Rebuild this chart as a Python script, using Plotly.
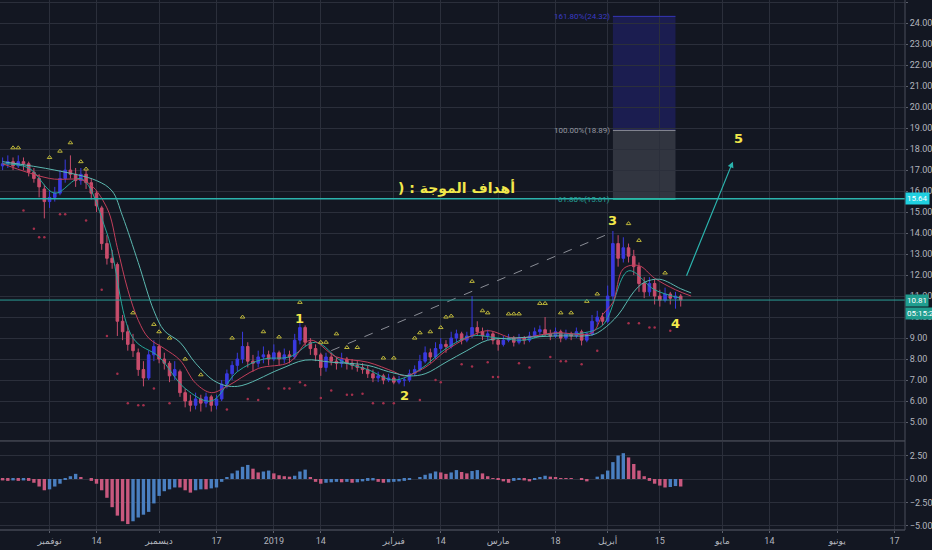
import pandas as pd
import plotly.graph_objects as go

# trading days (Sun-Thu), data runs to 2019-04-21, rest is empty future space
dates = pd.bdate_range('2018-10-21', '2019-07-15', freq='C', weekmask='Sun Mon Tue Wed Thu')

opens = [17.2, 17.3, 17.4, 17.2, 17.4, 17.3, 16.9, 16.6, 16.1, 15.5,
         15.7, 15.9, 16.6, 17.0, 16.8, 16.5, 16.8, 16.4, 15.9, 15.2,
         13.5, 12.8, 12.5, 9.8, 9.3, 8.7, 8.3, 7.5, 7.1, 8.2,
         8.6, 8.0, 7.8, 7.2, 7.4, 6.4, 6.0, 5.8, 6.1, 5.9,
         6.2, 5.8, 6.1, 6.8, 7.3, 7.7, 8.0, 8.6, 7.9, 7.8,
         8.1, 8.2, 8.0, 8.3, 8.0, 8.2, 8.1, 8.9, 9.5, 8.8,
         8.5, 8.2, 7.6, 8.1, 7.9, 7.8, 8.0, 7.8, 7.7, 7.6,
         7.5, 7.3, 7.1, 7.2, 7.0, 7.1, 6.9, 7.0, 7.0, 7.3,
         7.5, 7.9, 8.3, 8.1, 8.5, 8.7, 8.6, 9.0, 9.2, 8.9,
         9.1, 9.5, 9.3, 9.1, 9.2, 8.9, 8.7, 8.9, 9.0, 8.8,
         9.0, 8.9, 9.1, 9.3, 9.4, 9.2, 9.1, 9.3, 9.0, 9.2,
         9.1, 9.3, 8.9, 9.2, 9.8, 10.0, 9.8, 11.0, 13.5, 12.8,
         13.3, 12.9, 12.4, 11.6, 11.2, 11.6, 11.0, 10.8, 11.1, 10.9,
         11.0]
highs = [17.6, 17.7, 17.6, 17.7, 17.6, 17.4, 17.1, 16.8, 16.3, 16.0,
         16.2, 17.0, 17.5, 17.7, 17.1, 17.1, 17.0, 16.6, 16.0, 15.3,
         13.9, 13.2, 12.6, 10.1, 9.6, 9.2, 8.5, 7.9, 8.4, 8.9,
         8.7, 8.3, 7.9, 7.9, 7.5, 6.6, 6.3, 6.4, 6.3, 6.4,
         6.3, 6.3, 7.0, 7.5, 7.9, 8.3, 9.3, 8.8, 8.2, 8.4,
         8.6, 8.4, 8.7, 8.4, 8.5, 8.4, 9.2, 9.85, 9.6, 9.0,
         8.7, 8.3, 8.3, 8.3, 8.1, 8.3, 8.1, 8.0, 7.9, 7.8,
         7.7, 7.5, 7.4, 7.3, 7.3, 7.2, 7.2, 7.1, 7.5, 7.7,
         8.2, 8.6, 8.5, 8.8, 9.0, 8.9, 9.3, 9.4, 9.3, 9.3,
         11.0, 9.8, 9.5, 9.4, 9.3, 9.0, 9.1, 9.2, 9.1, 9.2,
         9.1, 9.3, 9.5, 9.6, 10.0, 9.4, 9.5, 9.4, 9.4, 9.3,
         9.5, 9.4, 9.3, 10.1, 10.3, 10.2, 11.5, 14.1, 13.9, 13.8,
         13.5, 13.2, 12.6, 11.9, 11.9, 11.8, 11.3, 11.4, 11.2, 11.2,
         11.1]
lows = [17.0, 17.1, 17.0, 17.1, 17.0, 16.7, 16.4, 15.7, 14.7, 15.2,
        15.5, 15.8, 16.4, 16.6, 16.2, 16.3, 16.1, 15.6, 15.0, 13.2,
        12.5, 12.3, 9.1, 8.9, 8.4, 8.1, 7.2, 6.7, 7.0, 7.9,
        7.8, 7.5, 6.9, 7.0, 6.2, 5.7, 5.5, 5.6, 5.5, 5.7,
        5.5, 5.6, 6.0, 6.6, 7.0, 7.4, 7.8, 7.6, 7.4, 7.6,
        7.8, 7.7, 7.9, 7.7, 7.8, 7.8, 8.0, 8.7, 8.6, 8.2,
        7.9, 7.2, 7.4, 7.7, 7.5, 7.6, 7.5, 7.5, 7.4, 7.3,
        7.1, 6.9, 6.9, 6.8, 6.9, 6.8, 6.8, 6.7, 6.9, 7.2,
        7.4, 7.8, 7.8, 8.0, 8.3, 8.3, 8.5, 8.8, 8.7, 8.8,
        9.0, 9.1, 8.9, 8.9, 8.7, 8.4, 8.6, 8.8, 8.6, 8.7,
        8.7, 8.8, 9.0, 9.1, 9.1, 8.9, 9.0, 8.8, 8.9, 8.9,
        9.0, 8.65, 8.8, 9.1, 9.6, 9.6, 9.7, 10.8, 12.4, 12.6,
        12.6, 12.0, 11.2, 10.9, 11.0, 10.6, 10.5, 10.7, 10.6, 10.4,
        10.5]
closes = [17.3, 17.4, 17.2, 17.4, 17.3, 16.9, 16.6, 16.2, 15.5, 15.7,
          15.9, 16.6, 17.0, 16.8, 16.5, 16.8, 16.4, 15.9, 15.3, 13.5,
          12.8, 12.6, 9.8, 9.3, 8.7, 8.4, 7.5, 7.1, 8.2, 8.6,
          8.0, 7.8, 7.2, 7.5, 6.4, 6.0, 5.8, 6.1, 5.9, 6.2,
          5.8, 6.1, 6.8, 7.3, 7.7, 8.0, 8.6, 7.9, 7.8, 8.1,
          8.2, 8.0, 8.3, 8.0, 8.2, 8.1, 8.9, 9.5, 8.8, 8.5,
          8.2, 7.6, 8.1, 7.9, 7.8, 8.0, 7.8, 7.7, 7.6, 7.5,
          7.3, 7.1, 7.2, 7.0, 7.1, 6.9, 7.0, 7.0, 7.3, 7.5,
          7.9, 8.3, 8.1, 8.5, 8.7, 8.6, 9.0, 9.2, 8.9, 9.1,
          9.5, 9.3, 9.1, 9.2, 8.9, 8.7, 8.9, 9.0, 8.8, 9.0,
          8.9, 9.1, 9.3, 9.4, 9.2, 9.1, 9.3, 9.0, 9.2, 9.1,
          9.3, 8.9, 9.2, 9.8, 10.0, 9.8, 11.0, 13.5, 12.8, 13.3,
          12.9, 12.4, 11.6, 11.2, 11.6, 11.0, 10.8, 11.1, 10.9, 11.0,
          10.81]

# moving averages (bar index, value)
ma_fast_idx = [0, 5, 10, 15, 20, 25, 30, 35, 40, 45, 50, 55, 60, 65, 70, 75, 80,
               85, 90, 95, 100, 105, 110, 115, 120, 125, 130]
ma_fast = [17.3, 17.1, 15.9, 16.6, 14.0, 9.0, 8.1, 6.6, 6.0, 7.4, 8.0, 8.1, 8.8, 7.9,
           7.5, 7.0, 7.5, 8.5, 9.1, 9.0, 8.9, 9.2, 9.2, 9.6, 12.2, 11.3, 10.9]
ma_red_idx = [0, 9, 16, 20, 22, 24, 26, 28, 31, 34, 37, 40, 43, 49, 55, 59, 64, 70,
              75, 77, 81, 85, 89, 93, 98, 106, 113, 115, 117, 119, 122, 125, 129, 132]
ma_red = [17.3, 16.6, 16.45, 15.2, 13.3, 11.3, 9.85, 9.0, 8.5, 7.95, 6.85, 6.4, 6.7,
          7.55, 7.85, 8.9, 8.1, 7.85, 7.4, 7.2, 7.6, 8.4, 9.0, 9.35, 9.0, 9.25, 9.25,
          10.1, 10.7, 12.3, 12.45, 11.85, 11.3, 11.0]
ma_slow_idx = [0, 10, 18, 21, 23, 26, 29, 31, 34, 37, 41, 45, 53, 58, 63, 70, 74, 78,
               81, 85, 89, 93, 98, 106, 113, 115, 118, 121, 123, 126, 130, 132]
ma_slow = [17.4, 17.0, 16.5, 16.0, 14.8, 12.6, 10.3, 9.35, 8.8, 7.8, 6.9, 6.7, 7.5,
           7.95, 7.85, 7.7, 7.4, 7.2, 7.3, 7.85, 8.4, 8.9, 9.0, 9.1, 9.15, 9.4, 10.1,
           11.2, 11.65, 11.8, 11.35, 11.15]

caret_idx = [2, 3, 9, 11, 13, 15, 16, 25, 29, 30, 32, 35, 38, 44, 46, 50, 53, 57, 61, 62,
             64, 66, 68, 73, 75, 79, 80, 82, 84, 85, 86, 90, 92, 93, 97, 98, 99, 103,
             104, 107, 109, 112, 114, 120, 122, 127]
caret_val = [18.06, 18.06, 17.6, 17.9, 18.3, 17.4, 17.05, 10.2, 9.65, 9.3, 9.0, 8.0,
             7.25, 9.0, 10.0, 9.3, 9.05, 10.7, 8.8, 8.8, 9.2, 8.55, 8.55, 8.05, 8.05,
             9.0, 9.25, 9.3, 9.5, 10.0, 10.05, 11.7, 10.3, 10.2, 10.15, 10.15, 10.15,
             10.65, 10.65, 10.2, 10.2, 10.75, 11.1, 14.45, 13.65, 12.1]
dot_idx = [4, 6, 7, 8, 11, 12, 16, 19, 20, 22, 24, 26, 27, 29, 32, 43, 47, 49, 51, 54,
           55, 57, 58, 61, 63, 66, 67, 69, 71, 73, 75, 80, 83, 84, 88, 90, 93, 94, 95,
           99, 101, 105, 107, 108, 111, 114, 120, 122, 124, 125, 128]
dot_val = [15.07, 14.2, 13.8, 13.8, 14.9, 14.9, 14.6, 11.3, 9.1, 7.3, 5.9, 5.8, 5.8,
           6.6, 5.9, 5.6, 6.1, 6.05, 6.6, 6.6, 6.6, 6.9, 6.75, 6.15, 6.5, 6.3, 6.3,
           6.35, 5.9, 5.9, 5.9, 6.05, 7.0, 6.9, 7.75, 7.65, 7.85, 7.15, 7.15, 7.8,
           7.6, 8.1, 7.9, 7.9, 7.75, 8.4, 9.7, 9.7, 9.5, 9.5, 9.35]

macd_hist = [-0.15, -0.2, -0.15, -0.2, -0.15, -0.2, -0.4, -0.8, -1.2, -1.1,
             -0.8, -0.5, -0.1, 0.3, 0.55, 0.2, 0.0, -0.2, -0.5, -1.2,
             -2.0, -3.0, -3.9, -4.5, -4.8, -4.5, -4.1, -3.8, -3.5, -2.6,
             -1.8, -1.3, -1.1, -0.9, -0.9, -1.2, -1.45, -1.2, -1.1, -1.1,
             -1.0, -0.9, -0.3, 0.2, 0.6, 0.9, 1.3, 1.5, 1.1, 0.7,
             0.8, 0.9, 0.6, 0.4, 0.3, 0.25, 0.35, 0.8, 1.0, 0.2,
             -0.3, -0.5, -0.4, -0.35, -0.3, -0.35, -0.3, -0.4, -0.35, -0.25,
             -0.2, -0.15, -0.3, -0.4, -0.35, -0.3, -0.25, -0.2, -0.1, 0.0,
             0.2, 0.45, 0.6, 0.8, 0.7, 0.55, 0.7, 0.95, 0.75, 0.6,
             0.85, 0.95, 0.6, 0.3, 0.1, -0.05, -0.25, -0.4, -0.2, -0.05,
             -0.15, -0.25, -0.1, 0.2, 0.35, 0.25, 0.15, 0.1, 0.05, 0.05,
             0.0, -0.1, -0.25, 0.0, 0.25, 0.5, 0.9, 1.8, 2.5, 2.75,
             2.3, 1.6, 0.9, 0.3, -0.2, -0.5, -0.7, -0.9, -0.85, -0.75,
             -0.8]

tick_dates = ['2018-11-01', '2018-11-14', '2018-12-02', '2018-12-17', '2019-01-01',
              '2019-01-14', '2019-02-03', '2019-02-14', '2019-03-03', '2019-03-18',
              '2019-04-01', '2019-04-15', '2019-05-01', '2019-05-14', '2019-06-02',
              '2019-06-17']
tick_text = ['نوفمبر', '14', 'ديسمبر', '17', '2019', '14', 'فبراير', '14', 'مارس', '18',
             'أبريل', '15', 'مايو', '14', 'يونيو', '17']

n = len(closes)
bar_dates = dates[:n]
BG = '#131722'
GRID = '#2b2f3b'
TEAL = '#2bb3ad'
YEL = '#f2e84b'

fig = go.Figure()
fig.add_trace(go.Candlestick(
    x=bar_dates, open=opens, high=highs, low=lows, close=closes,
    increasing=dict(line=dict(color='#3a3ae0', width=1), fillcolor='#3a3ae0'),
    decreasing=dict(line=dict(color='#c84d6c', width=1), fillcolor='#c84d6c'),
    whiskerwidth=0, showlegend=False, hoverinfo='skip'))

for idx, vals, col in [(ma_fast_idx, ma_fast, '#26a69a'),
                       (ma_red_idx, ma_red, '#c23e5a'),
                       (ma_slow_idx, ma_slow, '#5cb8b0')]:
    fig.add_trace(go.Scatter(x=[dates[i] for i in idx], y=vals, mode='lines',
                             line=dict(color=col, width=1, shape='spline'),
                             showlegend=False, hoverinfo='skip'))

fig.add_trace(go.Scatter(x=[dates[i] for i in caret_idx], y=caret_val, mode='markers',
                         marker=dict(symbol='triangle-up-open', size=4, color='#bdb63a',
                                     line=dict(width=1)),
                         showlegend=False, hoverinfo='skip'))
fig.add_trace(go.Scatter(x=[dates[i] for i in dot_idx], y=dot_val, mode='markers',
                         marker=dict(symbol='circle', size=2.5, color='#a3304c'),
                         showlegend=False, hoverinfo='skip'))

# macd histogram: blue when rising, pink when falling
hist_colors = ['#4a7fc0' if i > 0 and macd_hist[i] > macd_hist[i - 1] else '#c8587e'
               for i in range(n)]
fig.add_trace(go.Bar(x=bar_dates, y=macd_hist, yaxis='y2', marker_color=hist_colors,
                     marker_line_width=0, showlegend=False, hoverinfo='skip'))

# dashed line from wave 2 area to wave 3 top
fig.add_shape(type='line', x0=dates[63], y0=8.4, x1=dates[117], y1=14.05,
              line=dict(color='#8a8d96', width=1, dash='dash'), xref='x', yref='y')

# horizontal levels
fig.add_shape(type='line', xref='paper', x0=0, x1=1, y0=15.64, y1=15.64, yref='y',
              line=dict(color=TEAL, width=1.5))
fig.add_shape(type='line', xref='paper', x0=0, x1=1, y0=10.81, y1=10.81, yref='y',
              line=dict(color='#2a9d95', width=1))

# fibonacci extension box
fx0, fx1 = dates[117], dates[129]
fig.add_shape(type='rect', x0=fx0, x1=fx1, y0=18.89, y1=24.32, xref='x', yref='y',
              fillcolor='rgba(40,40,150,0.40)', line_width=0, layer='below')
fig.add_shape(type='rect', x0=fx0, x1=fx1, y0=15.61, y1=18.89, xref='x', yref='y',
              fillcolor='rgba(120,122,135,0.30)', line_width=0, layer='below')
for lvl, col in [(24.32, '#3636b8'), (18.89, '#8c8f99'), (15.61, '#26c0a0')]:
    fig.add_shape(type='line', x0=fx0, x1=fx1, y0=lvl, y1=lvl, xref='x', yref='y',
                  line=dict(color=col, width=1))
fib_labels = [(24.32, '161.80%(24.32)', '#3a3ac4'),
              (18.89, '100.00%(18.89)', '#9598a1'),
              (15.61, '61.80%(15.61)', '#26a69a')]
for lvl, txt, col in fib_labels:
    fig.add_annotation(x=fx0, y=lvl, text=txt, showarrow=False, xanchor='right',
                       xshift=-1, font=dict(size=8, color=col))

# pane separators and axis line
fig.add_shape(type='line', xref='paper', yref='paper', x0=0, x1=1, y0=0.168, y1=0.168,
              line=dict(color='#5a5e6a', width=1))
fig.add_shape(type='line', xref='paper', yref='paper', x0=0, x1=1, y0=0.0, y1=0.0,
              line=dict(color='#5a5e6a', width=1))
fig.add_shape(type='line', xref='paper', yref='paper', x0=1, x1=1, y0=0, y1=1,
              line=dict(color='#4a4e5a', width=1))

# wave labels
waves = [(dates[57], 9.95, '1'), (dates[77], 6.25, '2'), (dates[117], 14.6, '3'),
         (dates[129], 9.7, '4'), (dates[141], 18.5, '5')]
for xd, yv, t in waves:
    fig.add_annotation(x=xd, y=yv, text='<b>' + t + '</b>', showarrow=False,
                       font=dict(size=13, color=YEL, family='DejaVu Sans'))
fig.add_annotation(x=dates[87], y=16.15, text='<b>) : أهداف الموجة</b>', showarrow=False,
                   font=dict(size=14, color=YEL, family='DejaVu Sans'))

# projected arrow
fig.add_annotation(x=dates[140], y=17.4, ax=dates[131], ay=11.9, xref='x', yref='y',
                   axref='x', ayref='y', showarrow=True, arrowhead=2, arrowsize=1,
                   arrowwidth=1.2, arrowcolor=TEAL, text='')

# price tags on the axis
tags = [(15.64, '15.64', '#1fd0e0', 0), (10.81, '10.81', '#1f9d8f', 0),
        (10.81, '05:15:22', '#1f9d8f', -13)]
for yv, txt, col, shift in tags:
    fig.add_annotation(xref='paper', x=1, y=yv, yref='y', text=txt, showarrow=False,
                       xanchor='left', yshift=shift, bgcolor=col, borderpad=1,
                       font=dict(size=8, color='#ffffff'))

fig.update_layout(
    width=932, height=550,
    margin=dict(l=0, r=27, t=0, b=20),
    paper_bgcolor=BG, plot_bgcolor=BG,
    font=dict(family='Roboto, DejaVu Sans', color='#b2b5be', size=10),
    bargap=0.35,
    xaxis=dict(anchor='y2', range=['2018-10-18 12:00', '2019-06-19'],
               rangebreaks=[dict(bounds=['fri', 'sun'])],
               tickvals=tick_dates, ticktext=tick_text, showgrid=True,
               gridcolor=GRID, gridwidth=1, zeroline=False, ticks='outside',
               ticklen=2, tickcolor='#5a5e6a', rangeslider=dict(visible=False),
               tickfont=dict(size=9, color='#b2b5be'), automargin=False),
    yaxis=dict(domain=[0.17, 1], side='right', range=[4.15, 25.1], dtick=1,
               tickformat='.2f', showgrid=True, gridcolor=GRID, zeroline=False,
               ticks='outside', ticklen=2, tickcolor='#5a5e6a', automargin=False,
               tickfont=dict(size=9)),
    yaxis2=dict(domain=[0, 0.166], side='right', range=[-5.43, 3.94], anchor='x',
                tickvals=[-5, -2.5, 0, 2.5], tickformat='.2f', showgrid=True,
                gridcolor=GRID, zeroline=False, ticks='outside', ticklen=2,
                tickcolor='#5a5e6a', automargin=False, tickfont=dict(size=9)),
)

fig.write_html("out.html", config={'displayModeBar': False},
               post_script="document.body.style.margin='0px';")
